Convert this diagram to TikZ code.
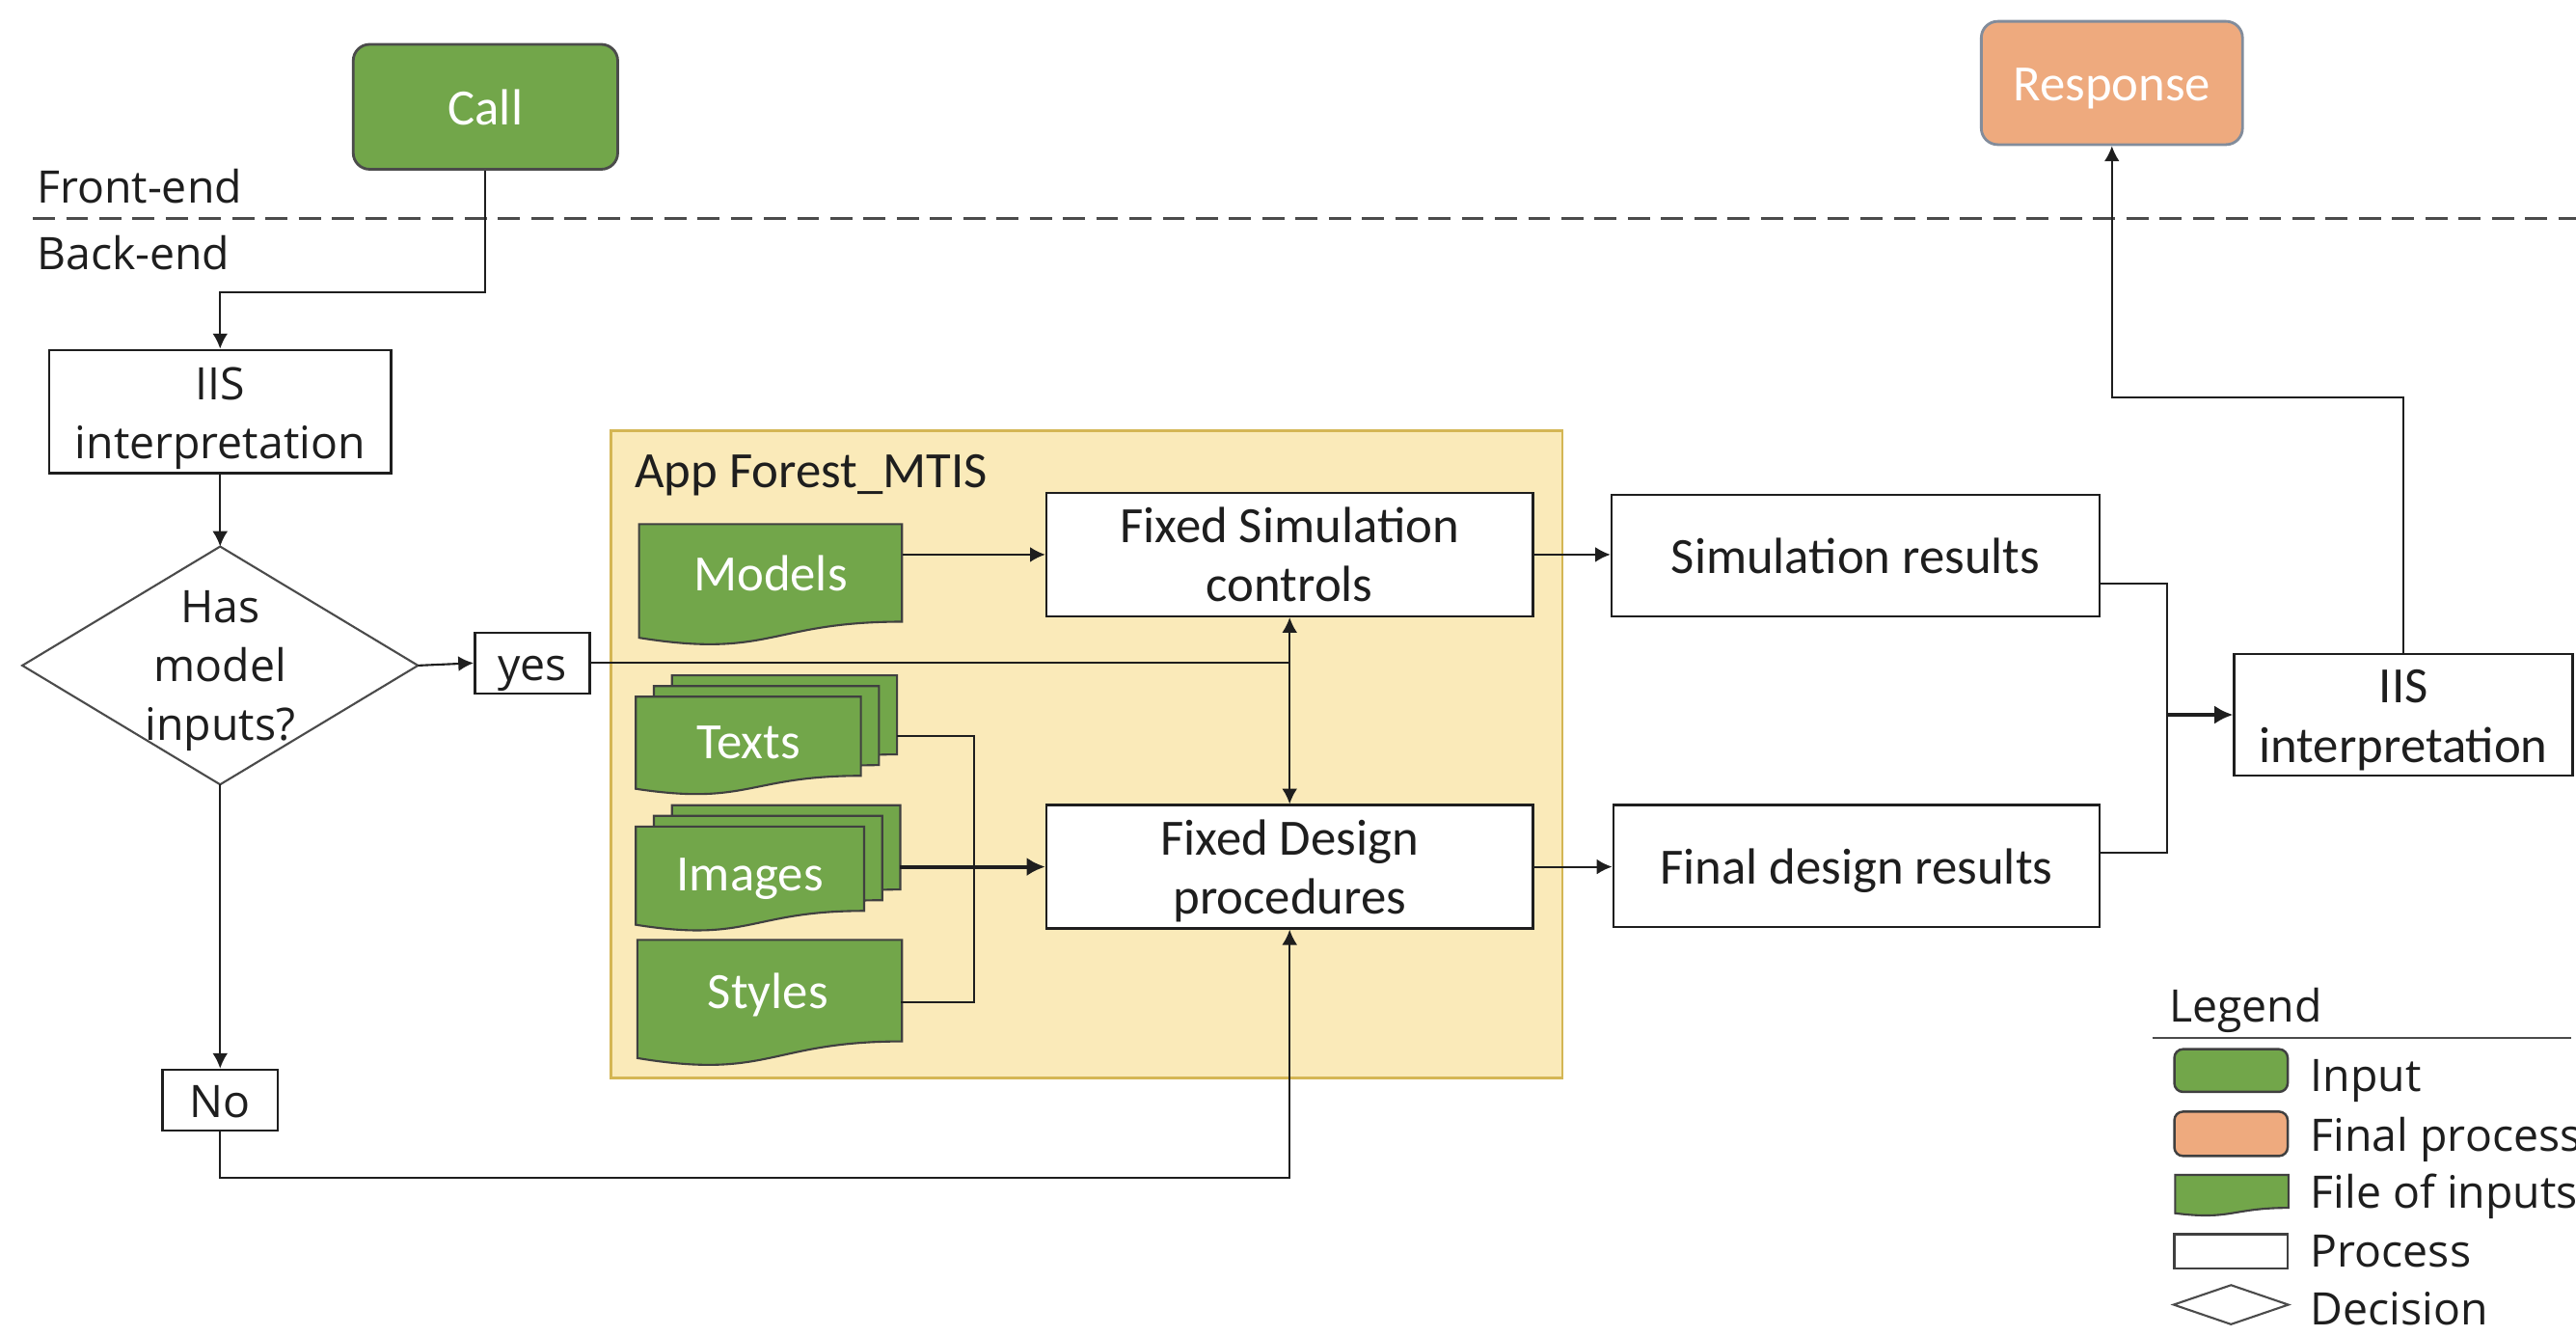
\documentclass[tikz,border=0pt]{standalone}
\usepackage{fontspec}
\setmainfont{Carlito}
\newfontfamily\segfont{Open Sans}
\usetikzlibrary{arrows.meta,calc}
\definecolor{gfill}{RGB}{114,166,74}
\definecolor{ofill}{RGB}{238,170,126}
\definecolor{yfill}{RGB}{250,234,185}
\definecolor{ydraw}{RGB}{212,182,84}
\definecolor{ink}{RGB}{30,30,30}
\definecolor{rdraw}{RGB}{130,140,155}
\def\pxu{0.017035cm}
\newcommand\vstr{\rule[-3.4pt]{0pt}{17.3pt}}
% document shape: x0, y0, x1, h
\newcommand\docshape[4]{%
  \filldraw[docst] (#1,#2) -- (#3,#2) -- (#3,{#2+0.802*#4})
    .. controls ({(#1+#3)/2},{#2+0.802*#4}) and ({(#1+#3)/2},{#2+1.1075*#4}) ..
    (#1,{#2+0.934*#4}) -- cycle;}
\begin{document}
\begin{tikzpicture}[x=0.017035cm,y=-0.017035cm,
  cal/.style={font=\fontsize{15}{17.4}\selectfont},
  seg/.style={font=\segfont\fontsize{13.2}{17.4}\selectfont},
  sz/.style 2 args={minimum width=#1*\pxu, minimum height=#2*\pxu},
  proc/.style={draw=ink,line width=0.7pt,fill=white,inner sep=0pt,align=center,text=ink},
  ghost/.style={inner sep=0pt,align=center},
  docst/.style={fill=gfill,draw=ink!85,line width=0.6pt},
  arr/.style={-{Latex[length=4.5pt,width=4.5pt]},line width=0.6pt,draw=ink},
  arrb/.style={-{Latex[length=5.5pt,width=5.5pt]},line width=1.1pt,draw=ink},
  arr2/.style={{Latex[length=4.5pt,width=4.5pt]}-{Latex[length=4.5pt,width=4.5pt]},line width=0.6pt,draw=ink},
  ln/.style={line width=0.6pt,draw=ink},
  lbl/.style={inner sep=0pt,anchor=west,text=ink}
]
\useasboundingbox (0,0) rectangle (1568,813);
\fill[white] (0,0) rectangle (1568,813);

% Front / back end
\draw[line width=0.9pt,draw=ink!80,dash pattern=on 6.5pt off 3.3pt] (20,133) -- (1568,133);
\node[seg,lbl] (fe) at (22,113) {\vstr Front-end};
\node[seg,lbl] (be) at (22,153) {\vstr Back-end};

% top terminals
\node[cal,sz={161}{76},draw=ink!80,line width=0.8pt,fill=gfill,rounded corners=0.17cm,text=white] (call) at (295.5,65) {\vstr Call};
\node[cal,sz={159}{75},draw=rdraw,line width=0.8pt,fill=ofill,rounded corners=0.17cm,text=white] (resp) at (1285.5,50.5) {\vstr Response};

% left flow
\node[seg,proc,sz={208}{75}] (iisL) at (134,250.5) {\vstr IIS\\\vstr interpretation};
\node[seg,ghost,sz={240}{144},text=ink] (dec) at (134,405) {};
\draw[line width=0.6pt,draw=ink!80] (dec.north) -- (dec.east) -- (dec.south) -- (dec.west) -- cycle;
\node[seg,ghost,text=ink] (dect) at (134,404) {\vstr Has\\\vstr model\\\vstr inputs?};
\node[seg,proc,sz={70}{37}] (yes) at (324,403.5) {\vstr yes};
\node[seg,proc,sz={70}{37}] (no) at (134,669.5) {\vstr No};

% App container
\node[draw=ydraw,fill=yfill,line width=0.8pt,inner sep=0pt,sz={579}{394}] (app) at (661.5,459) {};
\node[cal,lbl] (applbl) at (386,286) {\vstr App Forest\_MTIS};

% document shapes
\docshape{389}{319}{549}{74}
\node[cal,ghost,sz={160}{59},text=white] (models) at (469,348.7) {\vstr Models};

\docshape{409}{411}{546}{60}
\docshape{398}{417.5}{535}{60}
\docshape{387}{424}{524}{60}
\node[cal,ghost,sz={137}{48},text=white] (texts) at (455.5,451) {\vstr Texts};
\coordinate (textsR) at (546,448);

\docshape{409}{490}{548}{64}
\docshape{398}{496.5}{537}{64}
\docshape{387}{503}{526}{64}
\node[cal,ghost,sz={139}{51},text=white] (images) at (456.5,531) {\vstr Images};
\coordinate (imagesR) at (548,527.5);

\docshape{388}{572}{549}{77}
\node[cal,ghost,sz={161}{62},text=white] (styles) at (467.5,602.9) {\vstr Styles};

% processes
\node[cal,proc,sz={296}{75}] (fsim) at (785,337.5) {\vstr Fixed Simulation\\\vstr controls};
\node[cal,proc,sz={296}{75}] (fdes) at (785,527.5) {\vstr Fixed Design\\\vstr procedures};
\node[cal,proc,sz={297}{74}] (simres) at (1129.5,338) {\vstr Simulation results};
\node[cal,proc,sz={296}{74}] (finres) at (1130,527) {\vstr Final design results};
\node[cal,proc,sz={206}{74}] (iisR) at (1463,435) {\vstr IIS\\\vstr interpretation};

% connectors
\draw[arr] (call.south) -- (call.south |- 0,178) -| (iisL.north);
\draw[arr] (iisL.south) -- (dec.north);
\draw[arr] (dec.east) -- (yes.west);
\draw[ln] (yes.east) -- (fsim.south |- yes.east);
\draw[arr2] (fsim.south) -- (fdes.north);
\draw[arr] (dec.south) -- (no.north);
\draw[arr] (no.south) -- (no.south |- 0,717) -| (fdes.south);
\draw[arr] (models.east |- fsim.west) -- (fsim.west);
\draw[ln] (textsR) -- (593,448) -- (593,610) -- (styles.east |- 0,610);
\draw[arrb] (imagesR) -- (fdes.west |- imagesR);
\draw[arr] (fsim.east) -- (simres.west |- fsim.east);
\draw[arr] (fdes.east) -- (finres.west |- fdes.east);
\draw[ln] (simres.east |- 0,355) -- (1319,355) -- (1319,519) -- (finres.east |- 0,519);
\draw[arrb] (1319,435) -- (iisR.west);
\draw[arr] (iisR.north) -- (iisR.north |- 0,242) -| (resp.south);

% legend
\node[seg,lbl] (leg) at (1320,611) {\vstr Legend};
\draw[line width=0.7pt,draw=ink!80] (1310,631.5) -- (1565,631.5);
\node[draw=ink!85,line width=0.7pt,fill=gfill,rounded corners=0.09cm,inner sep=0pt,sz={69}{26}] (lg1) at (1358,651.5) {};
\node[seg,lbl] (lt1) at (1406,653.5) {\vstr Input};
\node[draw=ink!85,line width=0.7pt,fill=ofill,rounded corners=0.09cm,inner sep=0pt,sz={69}{27}] (lg2) at (1358,690) {};
\node[seg,lbl] (lt2) at (1406,689.5) {\vstr Final process};
\docshape{1324}{715}{1393}{25}
\node[ghost,sz={69}{20}] (lg3) at (1358.5,725) {};
\node[seg,lbl] (lt3) at (1406,724.5) {\vstr File of inputs};
\node[draw=ink!85,line width=0.7pt,fill=white,inner sep=0pt,sz={69}{21}] (lg4) at (1358,761.5) {};
\node[seg,lbl] (lt4) at (1406,760.5) {\vstr Process};
\node[ghost,sz={69}{23}] (lg5) at (1358,794) {};
\draw[line width=0.6pt,draw=ink!80] (lg5.north) -- (lg5.east) -- (lg5.south) -- (lg5.west) -- cycle;
\node[seg,lbl] (lt5) at (1406,795.5) {\vstr Decision};
\end{tikzpicture}
\end{document}
